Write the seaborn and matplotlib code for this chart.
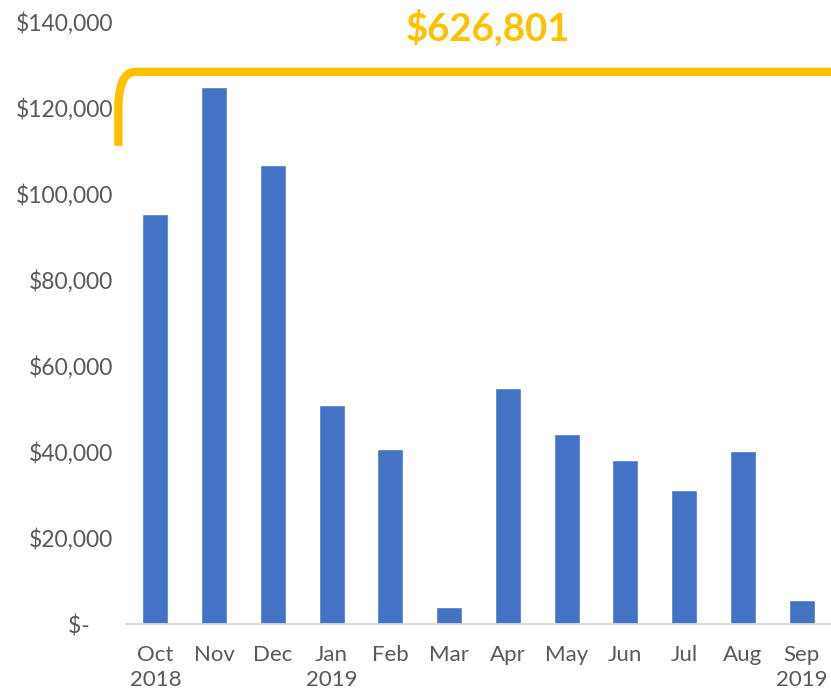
import matplotlib
matplotlib.use("Agg")
import matplotlib.pyplot as plt
from matplotlib.path import Path
from matplotlib.patches import PathPatch
from matplotlib.ticker import FixedLocator
import seaborn as sns
import pandas as pd

months = ["Oct", "Nov", "Dec", "Jan", "Feb", "Mar", "Apr", "May", "Jun", "Jul", "Aug", "Sep"]
tick_labels = ["Oct\n2018", "Nov", "Dec", "Jan\n2019", "Feb", "Mar", "Apr", "May", "Jun", "Jul", "Aug", "Sep\n2019"]
values = [95300, 124900, 106700, 50900, 40700, 4000, 54900, 44200, 38100, 31200, 40200, 5600]
total_label = "$626,801"
y_ticks = [0, 20000, 40000, 60000, 80000, 100000, 120000, 140000]
y_tick_labels = ["$-    ", "$20,000", "$40,000", "$60,000", "$80,000", "$100,000", "$120,000", "$140,000"]

sns.set_style("white")
plt.rcParams["font.family"] = ["Lato", "DejaVu Sans"]

df = pd.DataFrame({"month": months, "value": values})

fig = plt.figure(figsize=(8.31, 6.92), dpi=100)
ax = fig.add_axes([126 / 831, 1 - 624 / 692, 1 - 126 / 831, (624 - 22) / 692])

sns.barplot(data=df, x="month", y="value", color="#4472C4", width=0.44,
            saturation=1, ax=ax, zorder=2)

ax.set_ylim(0, 140000)
ax.set_xlim(-0.5, 11.5)
ax.set_xlabel("")
ax.set_ylabel("")
ax.set_yticks(y_ticks)
ax.set_yticklabels(y_tick_labels)
ax.set_xticks(range(len(months)))
ax.set_xticklabels(tick_labels, linespacing=1.3)
ax.xaxis.set_minor_locator(FixedLocator([i - 0.5 for i in range(len(months) + 1)]))

for s in ["top", "right", "left"]:
    ax.spines[s].set_visible(False)
ax.spines["bottom"].set_color("#D9D9D9")
ax.spines["bottom"].set_linewidth(1.3)

ax.tick_params(axis="y", length=0, pad=9, labelsize=16.5, labelcolor="#595959")
ax.tick_params(axis="x", which="major", length=0, pad=15, labelsize=16, labelcolor="#595959")
ax.tick_params(axis="x", which="minor", length=7, width=1.3, color="#D9D9D9")

# Bracket annotation
verts = [(-0.63, 111200), (-0.63, 121000), (-0.60, 128400), (-0.35, 128400), (11.6, 128400)]
codes = [Path.MOVETO, Path.LINETO, Path.CURVE3, Path.CURVE3, Path.LINETO]
bracket = PathPatch(Path(verts, codes), facecolor="none", edgecolor="#FFC000",
                    linewidth=6, clip_on=False, capstyle="butt", joinstyle="round", zorder=3)
ax.add_patch(bracket)

fig.text(488 / 831, 1 - 28 / 692, total_label, ha="center", va="center",
         fontsize=27.5, fontweight="bold", color="#FFC000")

fig.savefig("out.png", dpi=100)
